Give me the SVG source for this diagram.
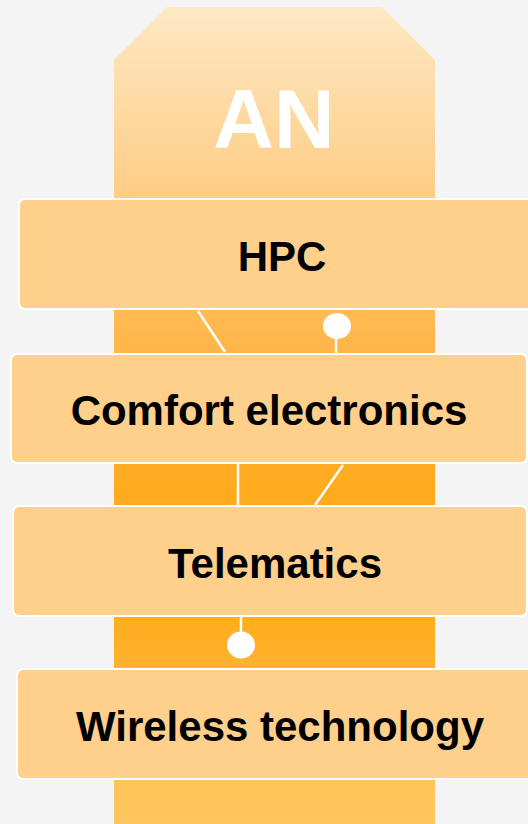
<svg xmlns="http://www.w3.org/2000/svg" width="528" height="824" viewBox="0 0 528 824">
<defs>
<linearGradient id="colGrad" gradientUnits="userSpaceOnUse" x1="0" y1="7" x2="0" y2="824">
<stop offset="0" stop-color="#fde8c4"/>
<stop offset="0.23" stop-color="#fecd86"/>
<stop offset="0.37" stop-color="#ffbb54"/>
<stop offset="0.43" stop-color="#ffb446"/>
<stop offset="0.59" stop-color="#ffab1d"/>
<stop offset="0.75" stop-color="#ffad1e"/>
<stop offset="0.80" stop-color="#ffb22c"/>
<stop offset="0.95" stop-color="#ffc459"/>
<stop offset="1" stop-color="#ffc660"/>
</linearGradient>
<style>
.box{fill:#fed08b;stroke:#ffffff;stroke-width:2}
.lbl{font-family:"Liberation Sans",Arial,sans-serif;font-weight:bold;font-size:42px;fill:#000000;text-anchor:middle}
.con{stroke:#ffffff;stroke-width:2.5;fill:none}
.dot{fill:#ffffff}
</style>
</defs>
<rect width="528" height="824" fill="#f4f4f4"/>
<g id="column">
<polygon points="114,60 167,7 382,7 435,60 435,824 114,824" fill="url(#colGrad)"/>
<text x="274" y="148" font-family="Liberation Sans,Arial,sans-serif" font-weight="bold" font-size="84" fill="#ffffff" text-anchor="middle">AN</text>
</g>
<g id="connectors">
<line class="con" x1="198" y1="311" x2="225" y2="352"/>
<line class="con" x1="336" y1="330" x2="336" y2="353"/>
<ellipse class="dot" cx="337" cy="326" rx="14" ry="13"/>
<line class="con" x1="238" y1="464" x2="238" y2="505"/>
<line class="con" x1="343" y1="465" x2="315" y2="505"/>
<line class="con" x1="241" y1="617" x2="241" y2="640"/>
<ellipse class="dot" cx="241" cy="645" rx="14" ry="13.5"/>
</g>
<g id="hpc">
<rect class="box" x="19" y="199" width="520" height="110" rx="6"/>
<text class="lbl" x="282" y="271">HPC</text>
</g>
<g id="comfort">
<rect class="box" x="11" y="354" width="516" height="109" rx="6"/>
<text class="lbl" x="269" y="425">Comfort electronics</text>
</g>
<g id="telematics">
<rect class="box" x="13" y="506" width="514" height="110" rx="6"/>
<text class="lbl" x="275" y="578">Telematics</text>
</g>
<g id="wireless">
<rect class="box" x="17" y="669" width="522" height="110" rx="6"/>
<text class="lbl" x="280" y="741">Wireless technology</text>
</g>
</svg>
